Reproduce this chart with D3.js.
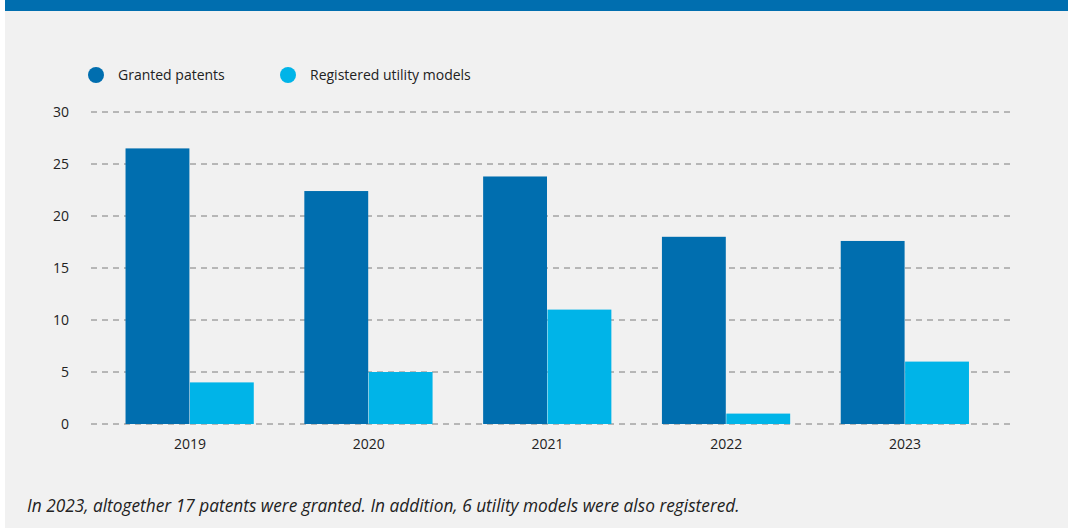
<!DOCTYPE html>
<html>
<head>
<meta charset="utf-8">
<script src="https://cdn.jsdelivr.net/npm/d3@7"></script>
<style>
  body { margin: 0; background: #fff; }
  svg { display: block; font-family: "Open Sans", sans-serif; }
</style>
</head>
<body>
<div id="chart"></div>
<script>
// Data
var years = ["2019", "2020", "2021", "2022", "2023"];
var seriesNames = ["Granted patents", "Registered utility models"];
var granted = [26.5, 22.4, 23.8, 18, 17.6];
var utility = [4, 5, 11, 1, 6];
var yTicks = [0, 5, 10, 15, 20, 25, 30];
var caption = "In 2023, altogether 17 patents were granted. In addition, 6 utility models were also registered.";

var width = 1068, height = 528;
var colors = ["#006eaf", "#00b4e8"];

var svg = d3.select("#chart").append("svg")
  .attr("width", width)
  .attr("height", height);

// panel background and top bar
svg.append("rect").attr("x", 5).attr("y", 0).attr("width", width - 5).attr("height", height).attr("fill", "#f1f1f1");
svg.append("rect").attr("x", 5).attr("y", 0).attr("width", width - 5).attr("height", 11).attr("fill", "#006eaf");

var y = d3.scaleLinear().domain([0, 30]).range([424, 112]);
var x = d3.scaleBand().domain(years).range([100.5, 994.5]).paddingInner(0.28).paddingOuter(0.14);
var xSub = d3.scaleBand().domain([0, 1]).range([0, x.bandwidth()]);

// grid lines
var grid = svg.append("g");
grid.selectAll("line")
  .data(yTicks)
  .enter().append("line")
  .attr("x1", 91).attr("x2", 1015)
  .attr("y1", function(d) { return y(d); })
  .attr("y2", function(d) { return y(d); })
  .style("stroke", "#7d7d7d")
  .style("stroke-width", "1px")
  .style("stroke-dasharray", "6,5");

// y labels
svg.append("g").selectAll("text")
  .data(yTicks)
  .enter().append("text")
  .attr("x", 69)
  .attr("y", function(d) { return y(d); })
  .attr("dy", "0.35em")
  .attr("text-anchor", "end")
  .style("font-size", "14px")
  .style("fill", "#222")
  .text(function(d) { return d; });

// bars
var groups = svg.append("g").selectAll("g")
  .data(years)
  .enter().append("g")
  .attr("transform", function(d) { return "translate(" + x(d) + ",0)"; });

groups.selectAll("rect")
  .data(function(d, i) { return [granted[i], utility[i]]; })
  .enter().append("rect")
  .attr("x", function(d, j) { return xSub(j); })
  .attr("width", xSub.bandwidth() - 0.5)
  .attr("y", function(d) { return y(d); })
  .attr("height", function(d) { return y(0) - y(d); })
  .attr("fill", function(d, j) { return colors[j]; });

// x labels
svg.append("g").selectAll("text")
  .data(years)
  .enter().append("text")
  .attr("x", function(d) { return x(d) + x.bandwidth() / 2; })
  .attr("y", 449)
  .attr("text-anchor", "middle")
  .style("font-size", "14px")
  .style("fill", "#222")
  .text(function(d) { return d; });

// legend
var legendX = [96, 288];
var legend = svg.append("g").selectAll("g")
  .data(seriesNames)
  .enter().append("g")
  .attr("transform", function(d, i) { return "translate(" + legendX[i] + ",75)"; });
legend.append("circle").attr("r", 8).attr("fill", function(d, i) { return colors[i]; });
legend.append("text")
  .attr("x", 22)
  .attr("dy", "0.35em")
  .style("font-size", "14px")
  .style("fill", "#222")
  .text(function(d) { return d; });

// caption
svg.append("text")
  .attr("x", 27)
  .attr("y", 512)
  .style("font-size", "17.3px")
  .style("font-style", "italic")
  .style("fill", "#222")
  .text(caption);
</script>
</body>
</html>
